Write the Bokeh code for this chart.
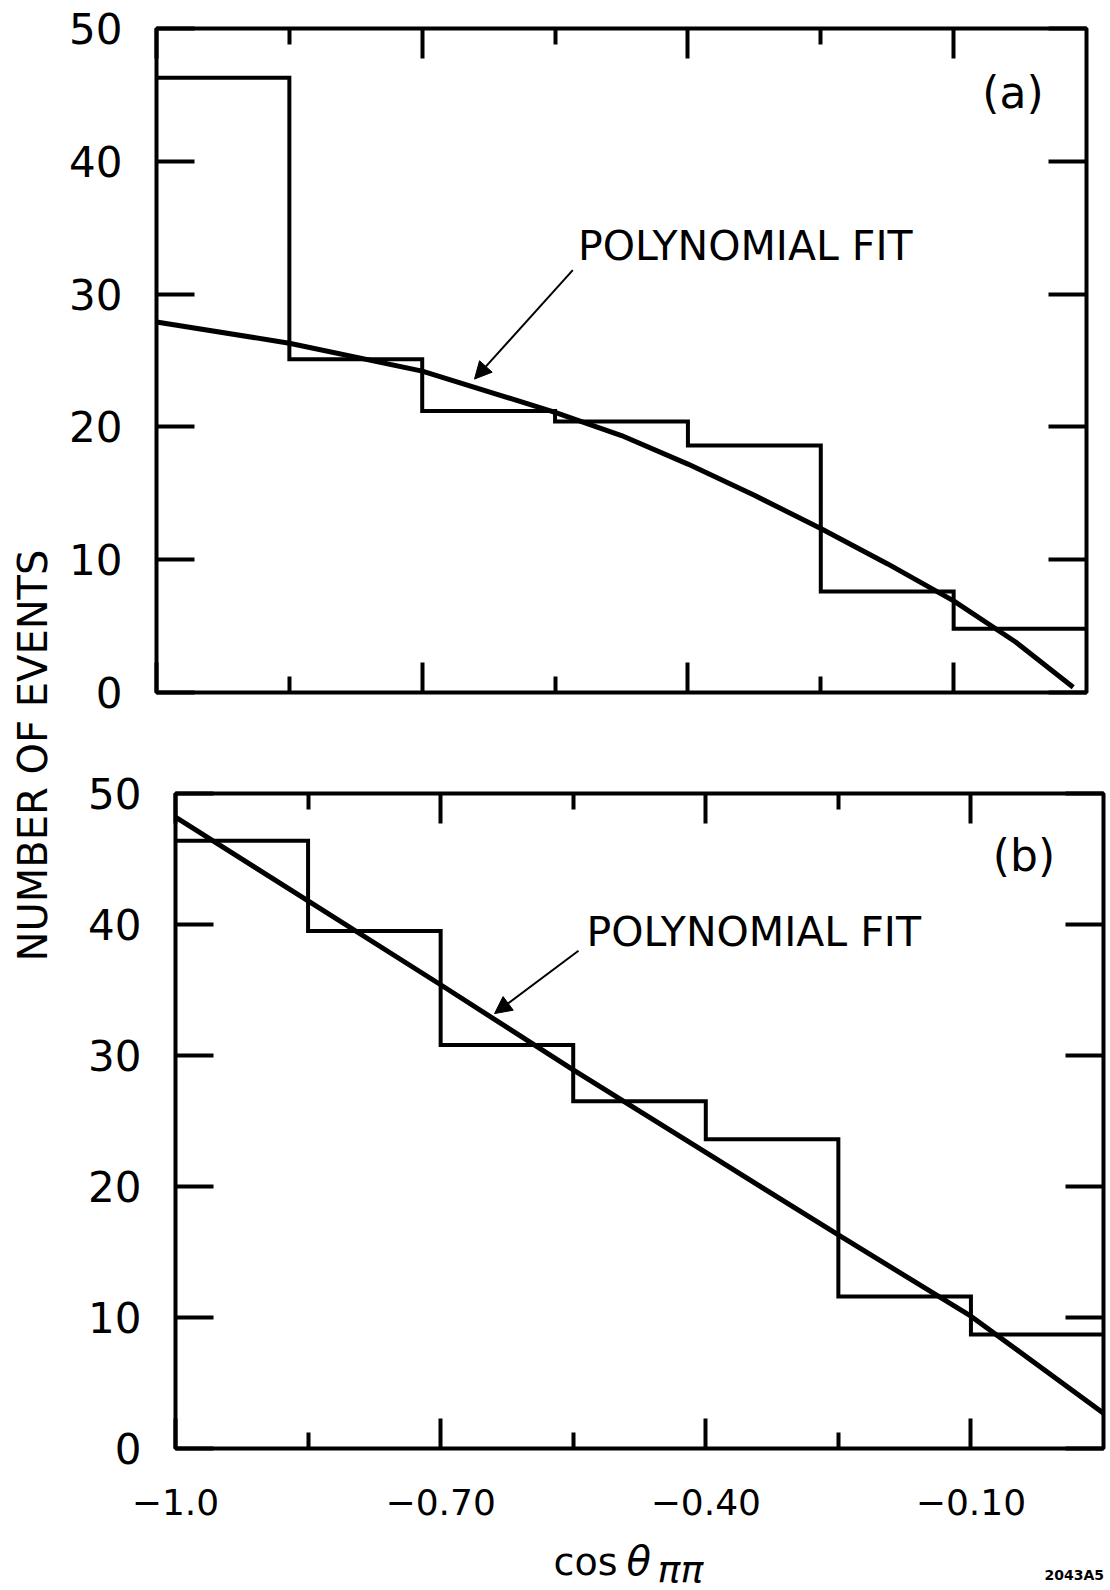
import math
from bokeh.plotting import figure
from bokeh.layouts import row, column
from bokeh.models import FixedTicker, LinearAxis, Label, Arrow, NormalHead, Range1d
from bokeh.embed import file_html
from bokeh.resources import INLINE

# ---- data ----
bin_edges = [-1.0, -0.85, -0.70, -0.55, -0.40, -0.25, -0.10, 0.05]
counts_a = [46.3, 25.1, 21.2, 20.4, 18.6, 7.6, 4.8]
counts_b = [46.4, 39.5, 30.8, 26.5, 23.6, 11.6, 8.7]
fit_a_x = [-1.0, -0.85, -0.70, -0.55, -0.475, -0.40, -0.325, -0.25, -0.175, -0.10, -0.03, 0.035]
fit_a_y = [27.9, 26.3, 24.2, 21.1, 19.35, 17.2, 14.85, 12.35, 9.7, 6.9, 3.8, 0.4]
fit_b_x = [-1.0, -0.85, -0.70, -0.55, -0.40, -0.25, -0.10, 0.05]
fit_b_y = [48.2, 41.8, 35.4, 28.9, 22.6, 16.3, 10.1, 2.7]
x_major = [-1.0, -0.70, -0.40, -0.10]
x_minor = [-0.85, -0.55, -0.25]
x_labels = ["\u22121.0", "\u22120.70", "\u22120.40", "\u22120.10"]
y_ticks = [0, 10, 20, 30, 40, 50]
y_labels = ["0", "10", "20", "30", "40", "50"]

FONT = "DejaVu Sans"


def hide_labels(ax):
    ax.major_label_text_font_size = "1px"
    ax.major_label_text_color = None
    ax.major_label_standoff = 0


def panel(counts, fx, fy, width, height, bl, br, bt, bb, show_x, tag, tag_xy,
          note_xy, arrow_from, arrow_to):
    p = figure(width=width, height=height,
               x_range=Range1d(bin_edges[0], bin_edges[-1]),
               y_range=Range1d(y_ticks[0], y_ticks[-1]),
               output_backend="svg", toolbar_location=None,
               x_axis_location=None, y_axis_location=None,
               min_border_left=bl, min_border_right=br,
               min_border_top=bt, min_border_bottom=bb)
    p.frame_align = False
    p.grid.visible = False
    p.outline_line_color = "black"
    p.outline_line_width = 4
    p.background_fill_color = "white"
    p.border_fill_color = "white"

    for loc in ["below", "above"]:
        ax = LinearAxis(ticker=FixedTicker(ticks=x_major, minor_ticks=x_minor))
        ax.axis_line_color = None
        ax.major_tick_in = 30
        ax.major_tick_out = 0
        ax.minor_tick_in = 16
        ax.minor_tick_out = 0
        ax.major_tick_line_width = 4
        ax.minor_tick_line_width = 4
        ax.major_tick_line_color = "black"
        ax.minor_tick_line_color = "black"
        if loc == "below" and show_x:
            ax.major_label_overrides = dict(zip(x_major, x_labels))
            ax.major_label_text_font = FONT
            ax.major_label_text_font_size = "36px"
            ax.major_label_text_color = "black"
            ax.major_label_standoff = 40
        else:
            hide_labels(ax)
        p.add_layout(ax, loc)

    for loc in ["left", "right"]:
        ay = LinearAxis(ticker=FixedTicker(ticks=y_ticks, minor_ticks=[]))
        ay.axis_line_color = None
        ay.major_tick_in = 38
        ay.major_tick_out = 0
        ay.major_tick_line_width = 4
        ay.major_tick_line_color = "black"
        if loc == "left":
            ay.major_label_overrides = dict(zip(y_ticks, y_labels))
            ay.major_label_text_font = FONT
            ay.major_label_text_font_size = "42px"
            ay.major_label_text_color = "black"
            ay.major_label_standoff = 34
        else:
            hide_labels(ay)
        p.add_layout(ay, loc)

    p.step(x=bin_edges, y=counts + [counts[-1]], mode="after",
           line_color="black", line_width=4, line_join="miter")
    p.line(x=fx, y=fy, line_color="black", line_width=5, line_join="round")

    p.add_layout(Label(x=tag_xy[0], y=tag_xy[1], text=tag, text_font=FONT,
                       text_font_size="44px", text_color="black",
                       text_align="center", text_baseline="middle"))
    p.add_layout(Label(x=note_xy[0], y=note_xy[1], text="POLYNOMIAL FIT", text_font=FONT,
                       text_font_size="41px", text_color="black",
                       text_align="left", text_baseline="middle"))
    p.add_layout(Arrow(end=NormalHead(size=17, fill_color="black", line_color="black", line_width=1),
                       x_start=arrow_from[0], y_start=arrow_from[1],
                       x_end=arrow_to[0], y_end=arrow_to[1],
                       line_color="black", line_width=2))
    return p


top = panel(counts_a, fit_a_x, fit_a_y, 1050, 740, 96, 24, 28, 48, False,
            "(a)", (-0.033, 45.2), (-0.524, 33.6), (-0.530, 31.8), (-0.641, 23.6))
bottom = panel(counts_b, fit_b_x, fit_b_y, 1050, 790, 115, 7, 53, 82, True,
               "(b)", (-0.04, 45.3), (-0.535, 39.4), (-0.544, 38.0), (-0.639, 33.2))

# strip below the bottom panel holding the x-axis title and plate number
strip = figure(width=1050, height=60, x_range=Range1d(60, 1110), y_range=Range1d(0, 60),
               output_backend="svg", toolbar_location=None,
               x_axis_location=None, y_axis_location=None, min_border=0)
strip.frame_align = False
strip.grid.visible = False
strip.outline_line_color = None
strip.border_fill_color = "white"
strip.add_layout(Label(x=553, y=29, text="cos", text_font=FONT, text_font_size="38px",
                       text_color="black", text_align="left", text_baseline="middle"))
strip.add_layout(Label(x=626, y=30, text="\u03b8", text_font=FONT, text_font_size="40px",
                       text_font_style="italic", text_color="black",
                       text_align="left", text_baseline="middle"))
strip.add_layout(Label(x=657, y=22, text="\u03c0\u03c0", text_font=FONT, text_font_size="38px",
                       text_font_style="italic", text_color="black",
                       text_align="left", text_baseline="middle"))
strip.add_layout(Label(x=1044, y=16, text="2043A5", text_font=FONT, text_font_size="14px",
                       text_font_style="bold", text_color="black",
                       text_align="left", text_baseline="middle"))

# shared y axis title
side = figure(width=60, height=1590, x_range=Range1d(0, 60), y_range=Range1d(0, 1590),
              output_backend="svg", toolbar_location=None,
              x_axis_location=None, y_axis_location=None, min_border=0)
side.frame_align = False
side.grid.visible = False
side.outline_line_color = None
side.border_fill_color = "white"
side.add_layout(Label(x=32, y=835, text="NUMBER OF EVENTS", text_font=FONT,
                      text_font_size="40px", text_color="black", angle=math.pi / 2,
                      text_align="center", text_baseline="middle"))

layout = row(side, column(top, bottom, strip))
open("out.html", "w").write(file_html(layout, INLINE))
